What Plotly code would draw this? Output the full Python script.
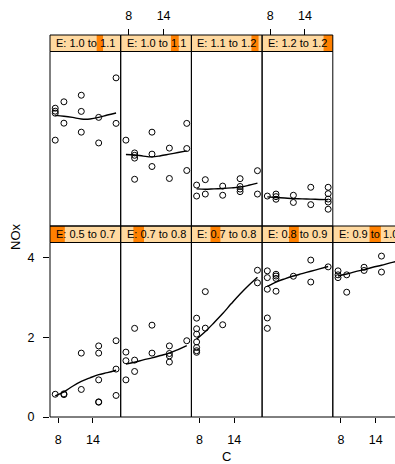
import plotly.graph_objects as go

W, H = 395, 464

# ---------------- data ----------------
strip_labels = ["E: 0.5 to 0.7", "E: 0.7 to 0.8", "E: 0.7 to 0.8", "E: 0.8 to 0.9", "E: 0.9 to 1.0",
                "E: 1.0 to 1.1", "E: 1.0 to 1.1", "E: 1.1 to 1.2", "E: 1.2 to 1.2"]
shingle_lo = [0.535, 0.660, 0.723, 0.800, 0.897, 0.995, 1.030, 1.127, 1.141]
shingle_hi = [0.681, 0.765, 0.821, 0.897, 1.009, 1.058, 1.107, 1.197, 1.232]

C_p1 = [7.5, 9, 9, 12, 12, 15, 15, 15, 15, 15, 18, 18, 18]
NOx_p1 = [0.57, 0.58, 0.56, 1.60, 0.69, 1.78, 1.60, 0.93, 0.38, 0.37, 1.91, 1.20, 0.54]
C_p2 = [7.5, 7.5, 7.5, 9, 9, 9, 12, 12, 15, 15, 15, 15, 18]
NOx_p2 = [1.625, 1.41, 0.93, 2.22, 1.425, 1.14, 2.30, 1.60, 1.78, 1.59, 1.53, 1.375, 1.91]
C_p3 = [7.5, 7.5, 7.5, 7.5, 7.5, 7.5, 7.5, 9, 9, 12, 18, 18]
NOx_p3 = [2.475, 2.21, 2.075, 1.88, 1.74, 1.66, 1.62, 3.14, 2.225, 2.31, 3.675, 3.36]
C_p4 = [7.5, 7.5, 7.5, 7.5, 7.5, 9, 9, 9, 9, 12, 15, 15, 18]
NOx_p4 = [3.66, 3.49, 3.2, 2.48, 2.22, 3.575, 3.53, 3.47, 3.15, 3.525, 3.93, 3.38, 3.76]
C_p5 = [7.5, 7.5, 7.5, 9, 9, 12, 12, 15, 15, 18, 18]
NOx_p5 = [3.66, 3.56, 3.49, 3.56, 3.125, 3.75, 3.67, 4.03, 3.63, 3.95, 3.73]
C_p6 = [7.5, 7.5, 7.5, 7.5, 9, 9, 12, 12, 12, 15, 15, 18, 18]
NOx_p6 = [2.95, 2.875, 2.825, 2.15, 3.11, 2.575, 3.275, 2.87, 2.35, 2.72, 2.08, 3.71, 2.57]
C_p7 = [7.5, 9, 9, 9, 9, 12, 12, 12, 15, 15, 18, 18, 18]
NOx_p7 = [2.15, 1.83, 1.77, 1.70, 1.17, 2.35, 1.80, 1.49, 1.95, 1.19, 2.57, 1.94, 1.39]
C_p8 = [7.5, 7.5, 9, 9, 12, 12, 15, 15, 15, 15, 18, 18]
NOx_p8 = [1.025, 0.75, 1.16, 0.80, 1.0, 0.77, 1.185, 0.99, 0.925, 0.86, 1.385, 0.80]
C_p9 = [7.5, 9, 9, 9, 12, 12, 15, 15, 18, 18, 18, 18, 18]
NOx_p9 = [0.75, 0.80, 0.735, 0.67, 0.77, 0.59, 0.97, 0.535, 0.97, 0.81, 0.675, 0.60, 0.42]

smooth_C = [7.5, 9, 10.5, 12, 13.5, 15, 16.5, 18]
smooth_p1 = [0.53, 0.63, 0.77, 0.89, 0.98, 1.06, 1.11, 1.17]
smooth_p2 = [1.325, 1.37, 1.43, 1.48, 1.54, 1.60, 1.69, 1.79]
smooth_p3 = [1.95, 2.14, 2.36, 2.59, 2.84, 3.08, 3.30, 3.50]
smooth_p4 = [3.27, 3.38, 3.46, 3.53, 3.59, 3.65, 3.71, 3.77]
smooth_p5 = [3.53, 3.58, 3.64, 3.69, 3.75, 3.80, 3.86, 3.91]
smooth_p6 = [2.77, 2.75, 2.72, 2.68, 2.68, 2.72, 2.78, 2.83]
smooth_p7 = [1.79, 1.78, 1.75, 1.73, 1.76, 1.80, 1.84, 1.88]
smooth_p8 = [0.93, 0.92, 0.93, 0.94, 0.955, 0.975, 1.02, 1.075]
smooth_p9 = [0.73, 0.715, 0.70, 0.685, 0.68, 0.672, 0.665, 0.66]

x_ticks = [8, 14]
y_ticks = [0, 2, 4]

panels = [(C_p1, NOx_p1, smooth_p1), (C_p2, NOx_p2, smooth_p2), (C_p3, NOx_p3, smooth_p3),
          (C_p4, NOx_p4, smooth_p4), (C_p5, NOx_p5, smooth_p5), (C_p6, NOx_p6, smooth_p6),
          (C_p7, NOx_p7, smooth_p7), (C_p8, NOx_p8, smooth_p8), (C_p9, NOx_p9, smooth_p9)]

# ---------------- layout geometry (pixels) ----------------
col_left = [50, 120.7, 191.4, 262.1, 332.8]
col_w = 70.7
row_panel = {0: (242.5, 417.0), 1: (51.5, 226.0)}   # (top, bottom) px
strip_h = 16.5
x_lo, px_per_unit = 6.6, 5.795
y_range = [0, 4.37]

FONT = "Liberation Sans, Arial, Helvetica, sans-serif"
STRIP_BG = "#FFD9A0"
STRIP_FG = "#FF8000"

def px(x):
    return x / W

def py(y):
    return 1 - y / H

fig = go.Figure()
layout = dict(width=W, height=H, autosize=False, margin=dict(l=0, r=0, t=0, b=0, pad=0),
              plot_bgcolor="white", paper_bgcolor="white", showlegend=False,
              font=dict(family=FONT, size=12.5, color="black"))
shapes, annotations = [], []

e_min, e_max = min(shingle_lo), max(shingle_hi)

for i, (cx, ny, sm) in enumerate(panels):
    row = 0 if i < 5 else 1
    col = i if i < 5 else i - 5
    k = i + 1
    xa = "xaxis" if k == 1 else f"xaxis{k}"
    ya = "yaxis" if k == 1 else f"yaxis{k}"
    xref = "x" if k == 1 else f"x{k}"
    yref = "y" if k == 1 else f"y{k}"
    left = col_left[col]
    right = left + col_w
    top, bottom = row_panel[row]
    right_vis = min(right, W)
    xr = [x_lo, x_lo + (right_vis - left) / px_per_unit]

    fig.add_trace(go.Scatter(x=cx, y=ny, mode="markers", xaxis=xref, yaxis=yref,
                             marker=dict(symbol="circle-open", size=6, color="black",
                                         line=dict(width=1, color="black")),
                             cliponaxis=True, hoverinfo="skip"))
    fig.add_trace(go.Scatter(x=smooth_C, y=sm, mode="lines", xaxis=xref, yaxis=yref,
                             line=dict(color="black", width=1.4, shape="spline"),
                             hoverinfo="skip"))

    xaxis = dict(domain=[px(left), px(right_vis)], range=xr, anchor=yref, automargin=False,
                 showgrid=False, zeroline=False, showline=False,
                 tickvals=x_ticks, ticks="", showticklabels=False,
                 tickfont=dict(family=FONT, size=12.5, color="black"))
    if row == 0 and col in (0, 2, 4):
        xaxis.update(ticks="outside", ticklen=5, tickwidth=1, tickcolor="black",
                     showticklabels=True, ticklabelstandoff=6)
    if row == 1 and col in (1, 3):
        xaxis.update(side="top", anchor="free", position=py(top - strip_h),
                     ticks="outside", ticklen=6, tickwidth=1, tickcolor="black",
                     showticklabels=True, ticklabelstandoff=4)
    yaxis = dict(domain=[py(bottom), py(top)], range=y_range, anchor=xref, automargin=False,
                 showgrid=False, zeroline=False, showline=False,
                 tickvals=y_ticks, ticks="", showticklabels=False,
                 tickfont=dict(family=FONT, size=12.5, color="black"))
    if row == 0 and col == 0:
        yaxis.update(ticks="outside", ticklen=6, tickwidth=1, tickcolor="black",
                     showticklabels=True, ticklabelstandoff=6)
    layout[xa] = xaxis
    layout[ya] = yaxis

    # panel border
    shapes.append(dict(type="rect", xref="paper", yref="paper",
                       x0=px(left), x1=px(right), y0=py(bottom), y1=py(top),
                       line=dict(color="black", width=1), fillcolor="rgba(0,0,0,0)", layer="above"))
    # strip
    s_top = top - strip_h
    shapes.append(dict(type="rect", xref="paper", yref="paper",
                       x0=px(left), x1=px(right), y0=py(top), y1=py(s_top),
                       line=dict(width=0), fillcolor=STRIP_BG, layer="below"))
    f0 = (shingle_lo[i] - e_min) / (e_max - e_min)
    f1 = (shingle_hi[i] - e_min) / (e_max - e_min)
    shapes.append(dict(type="rect", xref="paper", yref="paper",
                       x0=px(left + f0 * col_w), x1=px(left + f1 * col_w), y0=py(top), y1=py(s_top),
                       line=dict(width=0), fillcolor=STRIP_FG, layer="below"))
    shapes.append(dict(type="rect", xref="paper", yref="paper",
                       x0=px(left), x1=px(right), y0=py(top), y1=py(s_top),
                       line=dict(color="black", width=1), fillcolor="rgba(0,0,0,0)", layer="above"))
    annotations.append(dict(text=strip_labels[i], xref="paper", yref="paper",
                            x=px(left + col_w / 2), y=py(s_top + strip_h / 2),
                            xanchor="center", yanchor="middle", showarrow=False,
                            font=dict(family=FONT, size=11, color="black")))

annotations.append(dict(text="C", xref="paper", yref="paper", x=px(227), y=py(456),
                        xanchor="center", yanchor="middle", showarrow=False,
                        font=dict(family=FONT, size=13, color="black")))
annotations.append(dict(text="NOx", xref="paper", yref="paper", x=px(15), y=py(237),
                        xanchor="center", yanchor="middle", showarrow=False, textangle=-90,
                        font=dict(family=FONT, size=13, color="black")))

layout["shapes"] = shapes
layout["annotations"] = annotations
fig.update_layout(**layout)
fig.write_html("out.html", config={"displayModeBar": False, "staticPlot": True},
               post_script="document.body.style.margin='0px';document.body.style.overflow='hidden';")
